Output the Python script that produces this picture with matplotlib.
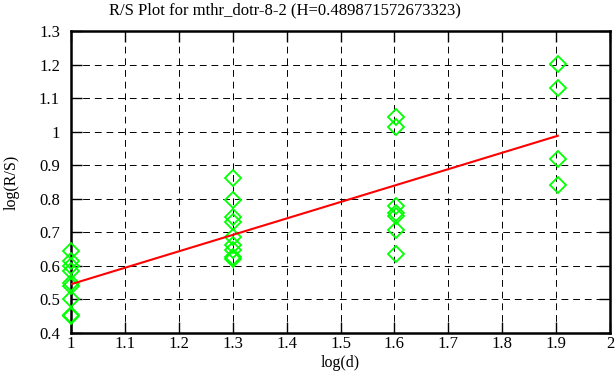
import numpy as np
import matplotlib
matplotlib.use("Agg")
import matplotlib.pyplot as plt

# data
log_d = [1.0, 1.30103, 1.60206, 1.90309]
log_rs_1 = [0.645, 0.615, 0.600, 0.585, 0.550, 0.540, 0.500, 0.455, 0.450]
log_rs_2 = [0.861, 0.796, 0.745, 0.730, 0.686, 0.662, 0.647, 0.626, 0.620]
log_rs_3 = [1.045, 1.013, 0.778, 0.757, 0.748, 0.708, 0.635]
log_rs_4 = [1.203, 1.130, 0.920, 0.840]
H = 0.489871572673323
intercept = 0.0555
x_ticks = [1, 1.1, 1.2, 1.3, 1.4, 1.5, 1.6, 1.7, 1.8, 1.9, 2]
y_ticks = [0.4, 0.5, 0.6, 0.7, 0.8, 0.9, 1.0, 1.1, 1.2, 1.3]
x_tick_labels = ["1", "1.1", "1.2", "1.3", "1.4", "1.5", "1.6", "1.7", "1.8", "1.9", "2"]
y_tick_labels = ["0.4", "0.5", "0.6", "0.7", "0.8", "0.9", "1", "1.1", "1.2", "1.3"]

plt.rcParams['font.family'] = ['Liberation Serif', 'DejaVu Serif']
plt.rcParams['font.size'] = 10.5

fig = plt.figure(figsize=(6.16, 3.87), dpi=100)
ax = fig.add_axes([71/616, 1 - 333/387, (610 - 71)/616, (333 - 31)/387])

groups = [log_rs_1, log_rs_2, log_rs_3, log_rs_4]
xs, ys = [], []
for xv, g in zip(log_d, groups):
    xs += [xv] * len(g)
    ys += g
ax.plot(xs, ys, linestyle='none', marker='D', markersize=8, markerfacecolor='none',
        markeredgecolor='#00ff00', markeredgewidth=1.3, zorder=3, clip_on=False)

xl = np.array([log_d[0], log_d[-1]])
ax.plot(xl, H * xl + intercept, color='red', linewidth=1.5, zorder=4)

ax.set_xlim(1, 2)
ax.set_ylim(0.4, 1.3)
ax.set_xticks(x_ticks)
ax.set_xticklabels(x_tick_labels)
ax.set_yticks(y_ticks)
ax.set_yticklabels(y_tick_labels)
ax.grid(True, color='black', linestyle=(0, (7, 5)), linewidth=0.7)
ax.tick_params(direction='in', length=8, width=1, top=True, right=True, labelsize=12)
ax.tick_params(axis='x', pad=2)
ax.tick_params(axis='y', pad=8)
for s in ax.spines.values():
    s.set_linewidth(1.8)
ax.set_xlabel('log(d)', labelpad=2, fontsize=11.5)
ax.set_ylabel('log(R/S)', labelpad=14, fontsize=11.5)
fig.text(285/616, 1 - 10/387, 'R/S Plot for mthr_dotr-8-2 (H=0.489871572673323)',
         ha='center', va='center', fontsize=12)

fig.savefig('out.png', dpi=100)
